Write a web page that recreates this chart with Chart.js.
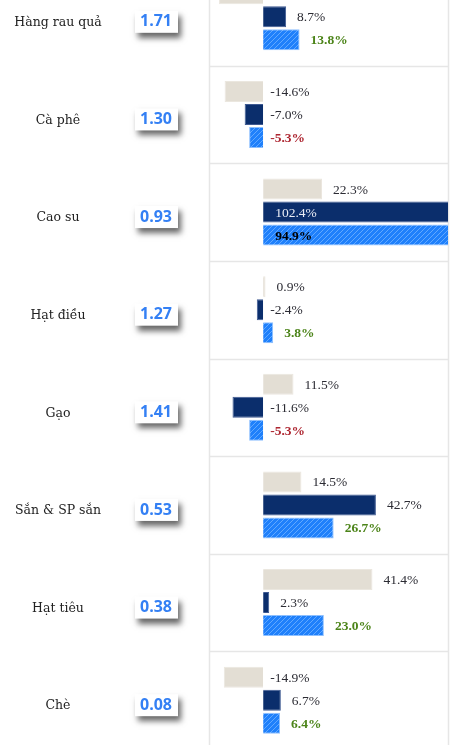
<!DOCTYPE html>
<html>
<head>
<meta charset="utf-8">
<script src="https://cdn.jsdelivr.net/npm/chart.js@4/dist/chart.umd.min.js"></script>
<style>
  html, body { margin: 0; padding: 0; background: #fff; }
  #wrap { position: relative; width: 459px; height: 745px; overflow: hidden; }
  #chart { position: absolute; left: 0; top: -32px; }
</style>
</head>
<body>
<div id="wrap"><canvas id="chart" width="459" height="781"></canvas></div>
<script>
  // --- DATA ---
  const categories = ["Hàng rau quả", "Cà phê", "Cao su", "Hạt điều", "Gạo", "Sắn & SP sắn", "Hạt tiêu", "Chè"];
  const boxValues = ["1.71", "1.30", "0.93", "1.27", "1.41", "0.53", "0.38", "0.08"];
  const seriesA = [-16.7, -14.6, 22.3, 0.9, 11.5, 14.5, 41.4, -14.9];
  const seriesB = [8.7, -7.0, 102.4, -2.4, -11.6, 42.7, 2.3, 6.7];
  const seriesC = [13.8, -5.3, 94.9, 3.8, -5.3, 26.7, 23.0, 6.4];

  // --- HELPERS ---
  const makeHatch = () => {
    const c = document.createElement("canvas");
    c.width = 5; c.height = 5;
    const g = c.getContext("2d");
    g.fillStyle = "#1f80fb";
    g.fillRect(0, 0, 5, 5);
    g.strokeStyle = "#62a9ff";
    g.lineWidth = 1;
    g.beginPath();
    g.moveTo(0, 5); g.lineTo(5, 0);
    g.moveTo(-2.5, 2.5); g.lineTo(2.5, -2.5);
    g.moveTo(2.5, 7.5); g.lineTo(7.5, 2.5);
    g.stroke();
    return g.createPattern(c, "repeat");
  };
  const fmt = (v) => v.toFixed(1) + "%";

  // --- PLUGINS ---
  const gridPlugin = {
    id: "grid",
    beforeDatasetsDraw(chart) {
      const { ctx, chartArea: a, scales: { y } } = chart;
      ctx.save();
      ctx.strokeStyle = "#e6e6e6";
      ctx.lineWidth = 1.5;
      for (let i = 0; i < categories.length - 1; i++) {
        const yy = Math.round((y.getPixelForValue(i) + y.getPixelForValue(i + 1)) / 2) + 0.5;
        ctx.beginPath(); ctx.moveTo(a.left, yy); ctx.lineTo(a.right, yy); ctx.stroke();
      }
      ctx.beginPath();
      ctx.moveTo(a.left + 0.5, a.top); ctx.lineTo(a.left + 0.5, a.bottom);
      ctx.moveTo(a.right + 0.5, a.top); ctx.lineTo(a.right + 0.5, a.bottom);
      ctx.stroke();
      ctx.restore();
    }
  };

  const sidePlugin = {
    id: "side",
    afterDraw(chart) {
      const { ctx, scales: { y } } = chart;
      ctx.save();
      categories.forEach((name, i) => {
        const cy = y.getPixelForValue(i) + 5;
        ctx.fillStyle = "#222";
        ctx.font = "12.5px 'DejaVu Serif'";
        ctx.textAlign = "center";
        ctx.textBaseline = "middle";
        ctx.fillText(name, 58, cy + 1);

        ctx.save();
        ctx.shadowColor = "rgba(0,0,0,0.6)";
        ctx.shadowBlur = 6;
        ctx.shadowOffsetX = 3;
        ctx.shadowOffsetY = 5;
        ctx.fillStyle = "#fff";
        ctx.fillRect(135, cy - 11, 43, 22);
        ctx.restore();

        ctx.fillStyle = "#3480f4";
        ctx.font = "bold 16px 'Open Sans'";
        ctx.fillText(boxValues[i], 156, cy);
      });
      ctx.restore();
    }
  };

  const labelPlugin = {
    id: "barLabels",
    afterDatasetsDraw(chart) {
      const { ctx, chartArea: a, scales: { x } } = chart;
      const zero = x.getPixelForValue(0);
      ctx.save();
      ctx.textBaseline = "middle";
      ctx.textAlign = "left";
      chart.data.datasets.forEach((ds, di) => {
        chart.getDatasetMeta(di).data.forEach((bar, i) => {
          const v = ds.data[i];
          let tx, color = "#2b2b33", bold = di === 2;
          if (bar.x > a.right) {
            tx = zero + 12;
            color = di === 1 ? "#e8ecf5" : "#000";
          } else if (v < 0) {
            tx = zero + 7;
            if (di === 2) color = "#ad2530";
          } else {
            tx = bar.x + 11;
            if (di === 2) color = "#4c8419";
          }
          ctx.font = (bold ? "bold " : "") + "13.5px 'Liberation Serif'";
          ctx.fillStyle = color;
          ctx.fillText(fmt(v), tx, bar.y + 1);
        });
      });
      ctx.restore();
    }
  };

  // --- CHART ---
  new Chart(document.getElementById("chart").getContext("2d"), {
    type: "bar",
    data: {
      labels: categories,
      datasets: [
        { data: seriesA, backgroundColor: "#e3ded4", borderColor: "#ebe7df", borderWidth: 1 },
        { data: seriesB, backgroundColor: "#0b2e6c", borderColor: "#3f5a92", borderWidth: 1 },
        { data: seriesC, backgroundColor: makeHatch(), borderColor: "#8ec0ff", borderWidth: 1 }
      ]
    },
    options: {
      indexAxis: "y",
      responsive: false,
      devicePixelRatio: 1,
      animation: false,
      categoryPercentage: 0.707,
      barPercentage: 0.91,
      layout: { padding: { left: 209, right: 11, top: 0, bottom: 0 } },
      scales: {
        x: { display: false, min: -20.5, max: 70 },
        y: { display: false }
      },
      plugins: { legend: { display: false }, tooltip: { enabled: false } }
    },
    plugins: [gridPlugin, labelPlugin, sidePlugin]
  });
</script>
</body>
</html>
